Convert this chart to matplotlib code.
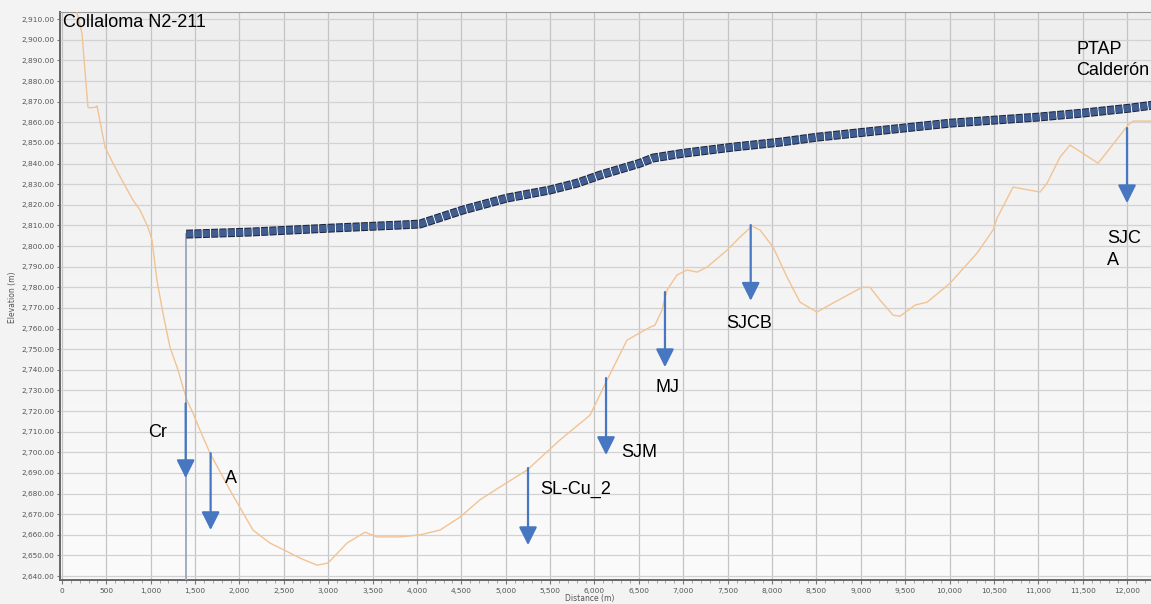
import numpy as np
import matplotlib
matplotlib.use('Agg')
import matplotlib.pyplot as plt
import matplotlib.patheffects as pe
from matplotlib.ticker import MultipleLocator, FuncFormatter

# Ground profile along the route (distance m, elevation m)
terrain_dist = [170, 225, 293, 315, 383, 395, 485, 575, 676, 800, 879, 969, 1014, 1070,
                1138, 1217, 1307, 1363, 1408, 1476, 1555, 1668, 1893, 2152, 2344, 2569,
                2682, 2873, 2997, 3211, 3414, 3549, 3809, 4034, 4259, 4485, 4710, 4935,
                5240, 5611, 5949, 6141, 6366, 6626, 6682, 6761, 6817, 6930, 7043, 7155,
                7268, 7493, 7640, 7775, 7865, 8012, 8169, 8316, 8507, 8688, 9014, 9104,
                9217, 9364, 9442, 9612, 9747, 10006, 10310, 10491, 10536, 10716, 11020,
                11099, 11246, 11358, 11674, 11809, 12012, 12068, 12300]
terrain_elev = [2913, 2903.3, 2867.4, 2867, 2867.4, 2868, 2848, 2840.2, 2832, 2822.3, 2817.5,
                2809.2, 2803, 2783.5, 2767.5, 2751, 2740, 2731.6, 2725.3, 2719, 2710.8,
                2699.6, 2681.7, 2662.3, 2656, 2651.2, 2648.7, 2645.3, 2646.3, 2656, 2661.3,
                2659, 2659, 2660, 2662.3, 2668.6, 2677, 2683.2, 2691.4, 2706, 2718, 2735,
                2754.4, 2760.7, 2761.7, 2769, 2778.7, 2786, 2788.4, 2787.4, 2789.8, 2798,
                2804.4, 2809.7, 2807.8, 2799.5, 2785, 2772.8, 2768, 2772.4, 2780, 2780,
                2773.8, 2766.5, 2766, 2771.4, 2772.8, 2782, 2796.6, 2807.8, 2813.6, 2828.6,
                2826.2, 2830.5, 2843.2, 2849, 2840.2, 2847.5, 2858.7, 2860.6, 2860.6]

# Pipeline grade line
pipe_dist = [1400, 2118, 3020, 3809, 4034, 4519, 5015, 5499, 5803, 6062, 6513, 6660, 6998,
             7561, 8091, 8507, 9476, 10006, 10986, 11505, 12034, 12300]
pipe_elev = [2805.8, 2806.8, 2808.7, 2810.2, 2810.7, 2817.5, 2823.3, 2827.2, 2830.5, 2834.4,
             2840.2, 2842.7, 2845, 2848, 2850.4, 2852.8, 2857.2, 2859.6, 2862.5, 2864.5,
             2866.9, 2868.4]

# Marker arrows: label, distance, arrow top, arrow tip
arrow_names = ['Cr', 'A', 'SL-Cu_2', 'SJM', 'MJ', 'SJCB', 'SJCA']
arrow_x = [1394, 1675, 5251, 6130, 6794, 7760, 12000]
arrow_top = [2723.7, 2699.6, 2692.4, 2736, 2777.7, 2810.2, 2857.2]
arrow_tip = [2687.5, 2662.3, 2655, 2698.7, 2741.3, 2773.5, 2820.8]

# Annotation texts and positions (left edge, vertical centre)
label_text = ['Cr', 'A', 'SL-Cu_2', 'SJM', 'MJ', 'SJCB', 'SJC\nA', 'PTAP\nCalderón',
              'Collaloma N2-211']
label_x = [969, 1837, 5386, 6299, 6682, 7482, 11775, 11426, 11]
label_y = [2709.8, 2687.5, 2682.2, 2700.1, 2731.2, 2762.7, 2798.3, 2890.2, 2908.3]

fig = plt.figure(figsize=(11.51, 6.04), dpi=100, facecolor='#f3f3f3')
ax = fig.add_axes([60 / 1151, 24 / 604, 1 - 60 / 1151, 568 / 604])

# soft grey gradient behind the plot
grad = np.linspace(0, 1, 256).reshape(-1, 1)
ax.imshow(grad, extent=[0, 1, 0, 1], transform=ax.transAxes, aspect='auto',
          cmap=matplotlib.colors.LinearSegmentedColormap.from_list('bg', ['#fbfbfb', '#eeeeee']),
          origin='lower', zorder=0)

ax.set_xlim(-22, 12270)
ax.set_ylim(2638.1, 2913.5)

ax.xaxis.set_major_locator(MultipleLocator(500))
ax.xaxis.set_minor_locator(MultipleLocator(100))
ax.yaxis.set_major_locator(MultipleLocator(10))
ax.xaxis.set_major_formatter(FuncFormatter(lambda v, p: f'{v:,.0f}'))
ax.yaxis.set_major_formatter(FuncFormatter(lambda v, p: f'{v:,.2f}'))
ax.tick_params(axis='both', labelsize=5.3, labelcolor='#555555', color='#777777')
ax.tick_params(axis='x', which='major', length=3, pad=3)
ax.tick_params(axis='x', which='minor', length=2, color='#999999')
ax.tick_params(axis='y', length=2, pad=2)

ax.grid(True, axis='x', color='#c4c4c4', lw=0.9, zorder=1)
ax.grid(True, axis='y', color='#d2d2d2', lw=0.9, zorder=1)
ax.set_axisbelow(True)

for side in ['left', 'bottom']:
    ax.spines[side].set_color('#666666')
    ax.spines[side].set_linewidth(1.4)
ax.spines['top'].set_color('#999999')
ax.spines['top'].set_linewidth(0.8)
ax.spines['right'].set_visible(False)

# terrain
ax.plot(terrain_dist, terrain_elev, color='#f2c393', lw=1.0, zorder=3)

# drop line from the start of the pipeline
ax.plot([pipe_dist[0], pipe_dist[0]], [pipe_elev[0], 2638.1], color='#9aa6bf', lw=1.3, zorder=3)

# pipeline drawn as a chain of square blocks
ax.plot(pipe_dist, pipe_elev, color='#3f5d90', lw=5.0, solid_capstyle='butt',
        linestyle=(0, (1.0, 0.2)), zorder=4,
        path_effects=[pe.Stroke(linewidth=6.4, foreground='#1b2238'), pe.Normal()])

for x, y0, y1 in zip(arrow_x, arrow_top, arrow_tip):
    ax.annotate('', xy=(x, y1), xytext=(x, y0),
                arrowprops=dict(arrowstyle='-|>,head_width=0.55,head_length=1.1',
                                color='#4677c0', lw=1.6, mutation_scale=10,
                                shrinkA=0, shrinkB=0), zorder=5)

for t, x, y in zip(label_text, label_x, label_y):
    ax.text(x, y, t, ha='left', va='center', fontsize=13, family='Liberation Sans',
            linespacing=1.35, color='black', zorder=6)

fig.text(590 / 1151, 1 - 599 / 604, 'Distance (m)', ha='center', va='center',
         fontsize=5.5, color='#555555')
fig.text(13 / 1151, 1 - 297 / 604, 'Elevation (m)', ha='center', va='center',
         fontsize=5.5, color='#555555', rotation=90)

fig.savefig('out.png', dpi=100, facecolor=fig.get_facecolor())
